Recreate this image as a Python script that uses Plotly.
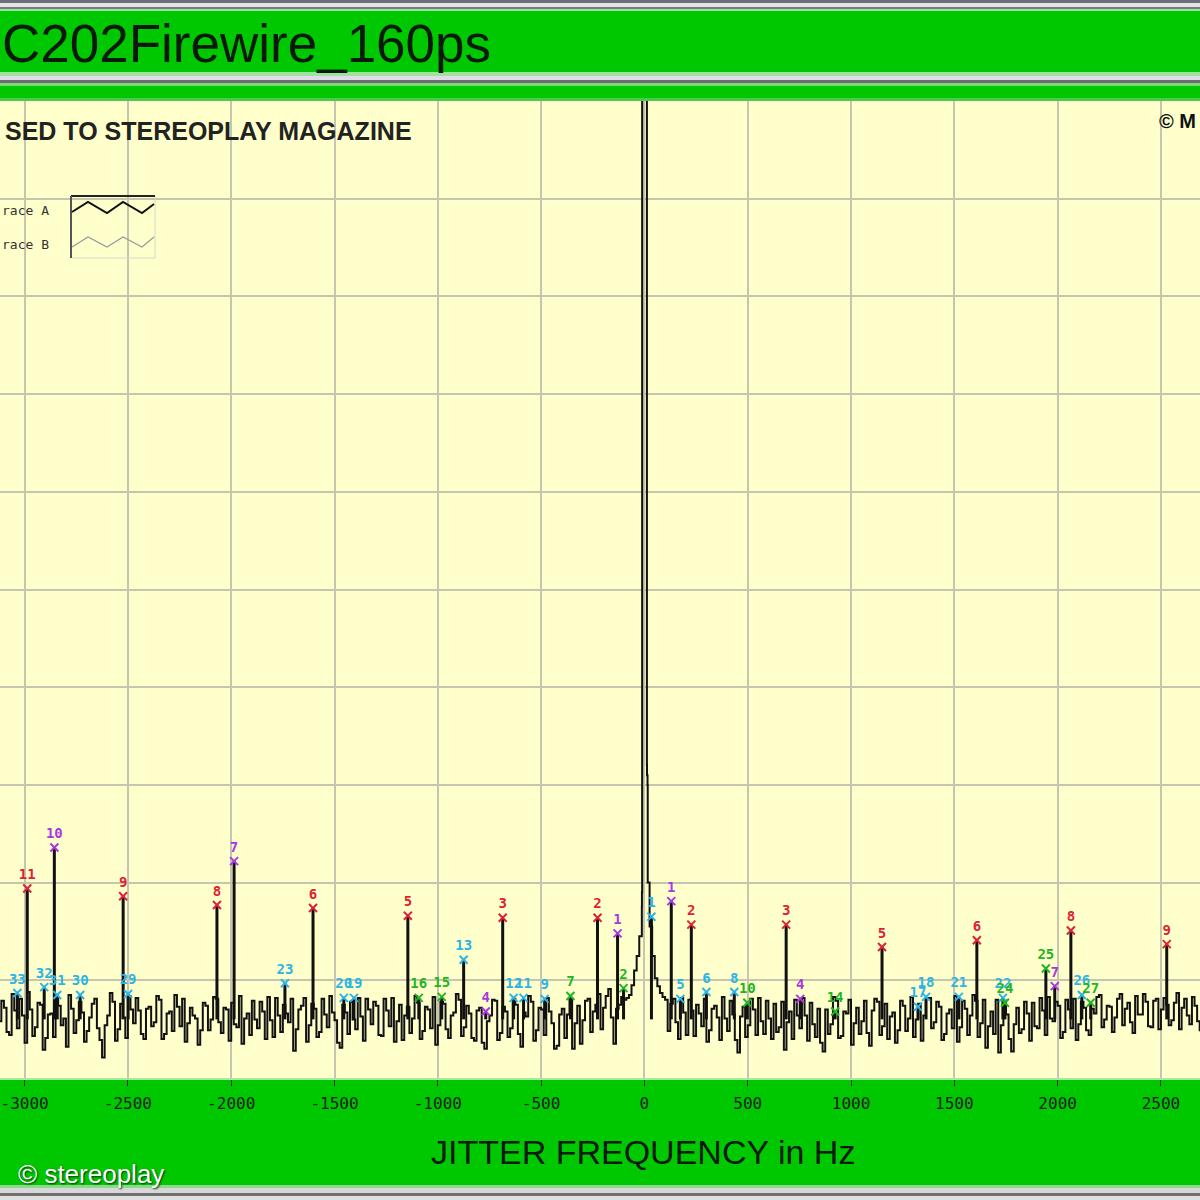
import plotly.graph_objects as go

W = H = 1200

# ---------------- data ----------------
tick_vals = [-3000, -2500, -2000, -1500, -1000, -500, 0, 500, 1000, 1500, 2000, 2500]
tick_text = ["-3000", "-2500", "-2000", "-1500", "-1000", "-500", "0", "500", "1000", "1500", "2000", "2500"]

# spectrum samples on the 25 Hz grid starting at -3125 Hz
noise_start = -3125
noise_step = 25
noise_db = [
    -174.2, -172.8, -175.6, -173.1, -171.9, -176.4, -173.0, -174.8, -172.5, -175.9,
    -173.4, -171.8, -174.6, -176.8, -172.9, -174.1, -173.3, -175.2, -172.4, -174.9,
    -177.9, -173.6, -172.2, -175.0, -173.8, -171.6, -174.4, -173.1, -176.0, -172.7,
    -174.3, -172.0, -175.5, -173.2, -171.5, -174.7, -176.3, -172.8, -173.9, -175.1,
    -172.6, -174.0, -171.9, -175.4, -173.0, -172.3, -174.8, -176.5, -173.4, -172.1,
    -174.9, -173.2, -171.7, -175.8, -173.6, -172.5, -174.3, -177.2, -173.0, -171.8,
    -174.6, -172.9, -175.3, -173.5, -171.6, -174.1, -176.9, -173.3, -172.2, -175.0,
    -173.7, -171.9, -174.5, -172.6, -175.7, -173.1, -171.8, -174.2, -176.1, -172.7,
    -173.9, -172.3, -175.2, -173.0, -171.7, -174.6, -172.4, -175.9, -173.3, -172.0,
    -174.8, -173.4, -176.2, -172.8, -177.0, -173.6, -172.1, -175.4, -173.2, -174.9,
    -172.5, -176.8, -173.7, -172.2, -175.1, -173.0, -171.8, -174.4, -176.7, -172.9,
    -173.5, -177.0, -172.6, -174.1, -171.9, -173.2, -171.4, -172.8, -170.9, -176.5,
    -172.5, -172.0, -171.5, -169.0, -165.5, -40.0, -164.5, -169.8, -171.3, -172.0,
    -172.4, -174.3, -171.8, -175.6, -173.1, -172.5, -174.7, -176.3, -172.9, -173.8,
    -171.7, -175.2, -173.5, -177.4, -172.7, -174.6, -173.0, -171.8, -175.5, -173.9,
    -172.4, -174.8, -177.1, -173.2, -172.0, -174.9, -173.6, -172.3, -175.8, -176.4,
    -173.0, -174.5, -172.1, -175.7, -173.4, -176.6, -172.8, -174.2, -175.4, -173.1,
    -172.2, -174.7, -176.0, -173.3, -175.1, -172.6, -173.9, -175.8, -172.4, -173.6,
    -171.8, -174.3, -172.7, -175.5, -173.0, -171.6, -174.8, -172.9, -173.6, -172.1,
    -174.4, -176.9, -173.2, -172.0, -174.6, -173.5, -177.3, -172.8, -175.0, -173.4,
    -172.3, -174.9, -173.1, -171.7, -174.2, -172.6, -175.3, -173.0, -171.9, -174.5,
    -172.8, -175.6, -173.4, -171.5, -174.0, -172.7, -173.8, -171.4, -172.9, -174.3,
    -171.6, -173.5, -172.2, -174.8, -171.9, -173.0, -172.5, -174.1, -171.3, -172.8,
    -173.6, -171.7, -174.2, -172.4,
]
# spectrum samples in between (grid starting at -3112.5 Hz)
mid_start = -3112.5
mid_db = [
    -172.1, -175.3, -171.4, -174.9, -173.6, -171.2, -175.7, -172.3, -177.1, -173.5,
    -175.8, -172.6, -173.9, -171.5, -175.4, -172.2, -176.3, -173.8, -171.9, -176.1,
    -174.6, -171.3, -176.2, -172.4, -175.9, -173.0, -171.8, -175.5, -172.9, -174.7,
    -171.6, -176.0, -173.4, -175.2, -172.7, -171.9, -174.4, -173.6, -176.6, -172.3,
    -175.1, -171.7, -174.3, -172.8, -176.2, -174.5, -171.6, -173.9, -175.6, -174.0,
    -172.2, -176.0, -174.1, -171.8, -175.3, -173.4, -171.9, -175.0, -172.6, -176.3,
    -172.4, -175.8, -171.9, -174.8, -173.3, -176.4, -172.5, -175.5, -174.0, -171.8,
    -176.2, -173.0, -172.2, -175.6, -171.9, -174.7, -176.3, -172.5, -173.6, -175.4,
    -171.6, -176.0, -172.7, -174.9, -176.6, -172.2, -175.0, -173.6, -171.4, -175.7,
    -172.6, -175.9, -173.1, -176.4, -174.2, -172.0, -176.1, -172.7, -175.8, -171.9,
    -175.5, -173.3, -171.6, -176.2, -172.8, -175.6, -173.2, -177.0, -173.5, -175.9,
    -171.8, -174.4, -176.5, -172.1, -175.3, -172.5, -175.0, -171.6, -173.8, -172.9,
    -171.7, -171.8, -170.5, -167.5, -162.5, -149.0, -167.5, -170.6, -171.7, -175.2,
    -171.9, -176.0, -173.3, -172.0, -175.7, -173.4, -171.9, -175.1, -172.6, -176.1,
    -173.9, -172.1, -176.1, -173.7, -175.8, -171.9, -175.6, -174.2, -172.1, -176.0,
    -175.3, -172.2, -174.3, -176.0, -173.6, -171.8, -176.2, -174.5, -172.9, -177.3,
    -175.5, -171.7, -175.9, -173.2, -172.0, -174.4, -175.5, -172.1, -176.7, -171.9,
    -175.6, -172.4, -173.7, -176.4, -172.1, -175.2, -171.7, -174.0, -176.2, -171.8,
    -174.9, -172.2, -176.1, -173.4, -174.9, -176.3, -172.1, -175.6, -171.5, -175.8,
    -172.0, -174.7, -175.5, -177.4, -172.1, -176.0, -174.5, -175.4, -172.2, -176.2,
    -174.7, -171.8, -175.6, -173.9, -172.2, -175.9, -172.0, -174.9, -176.1, -172.2,
    -175.1, -172.9, -171.7, -174.8, -172.6, -175.3, -171.9, -174.6, -172.3, -175.4,
    -173.5, -171.4, -174.7, -172.1, -175.0, -171.8, -174.6, -172.3, -175.0, -171.9,
    -174.5, -172.6, -175.1,
]
noise_freq = [noise_start + noise_step * i for i in range(len(noise_db))]
mid_freq = [mid_start + noise_step * i for i in range(len(mid_db))]

carrier_freq = [-12, -11, 11, 12, 15, 16]
carrier_db = [-161.0, -40.0, -40.0, -148.0, -150.0, -160.0]

spike_base = -174.0

red_freq = [-2987, -2523, -2069, -1604, -1145, -686, -227, 227, 686, 1150, 1609, 2064, 2528]
red_db = [-160.6, -161.4, -162.3, -162.6, -163.4, -163.6, -163.6, -164.3, -164.3, -166.6, -165.9, -164.9, -166.3]
red_lbl = ["11", "9", "8", "6", "5", "3", "2", "2", "3", "5", "6", "8", "9"]

purple_freq = [-2856, -1986, -768, -130, 130, 754, 1986]
purple_db = [-156.4, -157.8, -173.2, -165.2, -161.9, -171.9, -170.6]
purple_lbl = ["10", "7", "4", "1", "1", "4", "7"]

cyan_freq = [-3035, -2905, -2842, -2731, -2499, -1740, -1455, -1406, -875, -633, -585, -483,
             34, 174, 300, 435, 1324, 1363, 1522, 1735, 2117]
cyan_db = [-171.3, -170.7, -171.5, -171.5, -171.4, -170.3, -171.8, -171.8, -167.9, -171.8, -171.8, -171.9,
           -163.5, -171.9, -171.2, -171.2, -172.7, -171.7, -171.7, -171.8, -171.5]
cyan_lbl = ["33", "32", "31", "30", "29", "23", "20", "19", "13", "12", "11", "9",
            "1", "5", "6", "8", "17", "18", "21", "22", "26"]

green_freq = [-1092, -981, -358, -101, 498, 923, 1745, 1943, 2160]
green_db = [-171.8, -171.7, -171.6, -170.8, -172.3, -173.2, -172.3, -168.8, -172.3]
green_lbl = ["16", "15", "7", "2", "10", "14", "24", "25", "27"]

# ---------------- styling ----------------
GREEN = "#00C800"
PLOT_BG = "#FFFFCC"
GRID = "#C6C6B0"
RED = "#DD2233"
PURPLE = "#A838E0"
CYAN = "#2BB5E6"
GREENM = "#22B522"
MONO = "DejaVu Sans Mono"
SANS = "Liberation Sans, Arial, sans-serif"


def px(x):
    return x / W


def py(y):
    return 1 - y / H


# ---------------- traces ----------------
pairs = sorted(zip(noise_freq + mid_freq + carrier_freq, noise_db + mid_db + carrier_db))
spec_x = [p[0] for p in pairs]
spec_y = [p[1] for p in pairs]

fig = go.Figure()
fig.add_trace(go.Scatter(x=spec_x, y=spec_y, mode="lines",
                         line=dict(color="#111111", width=2, shape="hv"), hoverinfo="skip"))

all_f = red_freq + purple_freq + cyan_freq + green_freq
all_d = red_db + purple_db + cyan_db + green_db
sx, sy = [], []
for f, d in zip(all_f, all_d):
    sx += [f, f, None]
    sy += [spike_base, d, None]
fig.add_trace(go.Scatter(x=sx, y=sy, mode="lines",
                         line=dict(color="#111111", width=3), hoverinfo="skip"))

for fr, db, lb, col in [(cyan_freq, cyan_db, cyan_lbl, CYAN),
                        (green_freq, green_db, green_lbl, GREENM),
                        (purple_freq, purple_db, purple_lbl, PURPLE),
                        (red_freq, red_db, red_lbl, RED)]:
    fig.add_trace(go.Scatter(
        x=fr, y=db, text=lb, mode="markers+text", textposition="top center",
        marker=dict(symbol="x-thin", size=8, color=col, line=dict(color=col, width=2)),
        textfont=dict(family=MONO, size=14, color=col, weight="bold"),
        hoverinfo="skip"))

# ---------------- decorations ----------------
shapes = []
stripes = [
    (0, 3, "#6E6E78"), (3, 7, "#E4E4EA"), (7, 9, "#7A7A80"), (9, 11, "#9FE29F"),
    (72, 76, "#9FE29F"), (76, 80, "#E0DCE8"), (80, 83, "#6E6E70"), (83, 86, "#7CD87C"),
    (98, 101, "#4FC84F"),
    (1078, 1080, "#A8E8A0"), (1185, 1188, "#90D890"), (1188, 1193, "#D8D8D8"),
    (1193, 1196, "#707070"), (1196, 1200, "#E0E0E0"),
]
for y0, y1, c in stripes:
    shapes.append(dict(type="rect", xref="paper", yref="paper", x0=0, x1=1,
                       y0=py(y1), y1=py(y0), fillcolor=c, line=dict(width=0), layer="above"))

# legend box
shapes.append(dict(type="rect", xref="paper", yref="paper", x0=px(71), x1=px(155),
                   y0=py(258), y1=py(196), line=dict(color="#D8D8C8", width=1)))
shapes.append(dict(type="line", xref="paper", yref="paper", x0=px(71), x1=px(155),
                   y0=py(196), y1=py(196), line=dict(color="#222222", width=2)))
shapes.append(dict(type="line", xref="paper", yref="paper", x0=px(71), x1=px(71),
                   y0=py(258), y1=py(196), line=dict(color="#555555", width=2)))


def zig(pts):
    return "M " + " L ".join(f"{px(a):.5f},{py(b):.5f}" for a, b in pts)


shapes.append(dict(type="path", xref="paper", yref="paper",
                   path=zig([(72, 212), (88, 202), (107, 213), (123, 202), (142, 213), (154, 204)]),
                   line=dict(color="#111111", width=2)))
shapes.append(dict(type="path", xref="paper", yref="paper",
                   path=zig([(72, 247), (88, 237), (107, 247), (123, 237), (142, 247), (154, 237)]),
                   line=dict(color="#999999", width=1.2)))

annotations = [
    dict(text="C202Firewire_160ps", x=px(0), y=py(44), xanchor="left", yanchor="middle",
         font=dict(family=SANS, size=53, color="#0A1A0A")),
    dict(text="SED TO STEREOPLAY MAGAZINE", x=px(3), y=py(131), xanchor="left", yanchor="middle",
         font=dict(family=SANS, size=25, color="#222222", weight="bold")),
    dict(text="race A", x=px(0), y=py(211), xanchor="left", yanchor="middle",
         font=dict(family=MONO, size=13, color="#333333")),
    dict(text="race B", x=px(0), y=py(245), xanchor="left", yanchor="middle",
         font=dict(family=MONO, size=13, color="#333333")),
    dict(text="© M", x=px(1157), y=py(121), xanchor="left", yanchor="middle",
         font=dict(family=SANS, size=20, color="#111111", weight="bold")),
    dict(text="JITTER FREQUENCY in Hz", x=px(643), y=py(1152), xanchor="center", yanchor="middle",
         font=dict(family="Liberation Sans Narrow, Arial Narrow, Liberation Sans, Arial", size=34,
                   color="#0A1A0A")),
    dict(text="© stereoplay", x=px(16), y=py(1174), xanchor="left", yanchor="middle",
         font=dict(family=SANS, size=26, color="#FFFFFF", shadow="1px 1px 2px #003300")),
]
for a in annotations:
    a.update(xref="paper", yref="paper", showarrow=False)

fig.update_layout(
    width=W, height=H, autosize=False,
    margin=dict(l=0, r=0, t=0, b=0, pad=0),
    paper_bgcolor=GREEN, plot_bgcolor=PLOT_BG,
    showlegend=False,
    shapes=shapes, annotations=annotations,
    xaxis=dict(range=[-3119, 2689], domain=[0, 1],
               tickvals=tick_vals, ticktext=tick_text,
               showgrid=True, gridcolor=GRID, gridwidth=2,
               zeroline=False, showline=False,
               ticks="outside", ticklen=7, tickwidth=1, tickcolor="#222222",
               ticklabelstandoff=4,
               tickfont=dict(family=MONO, size=16, color="#102010")),
    yaxis=dict(range=[-180, -80], domain=[py(1078), py(101)],
               tick0=-180, dtick=10, showticklabels=False,
               showgrid=True, gridcolor=GRID, gridwidth=2,
               zeroline=False, showline=False, ticks=""),
)

fig.write_html("out.html", config={"displayModeBar": False},
               post_script="document.body.style.margin='0';document.body.style.overflow='hidden';")
